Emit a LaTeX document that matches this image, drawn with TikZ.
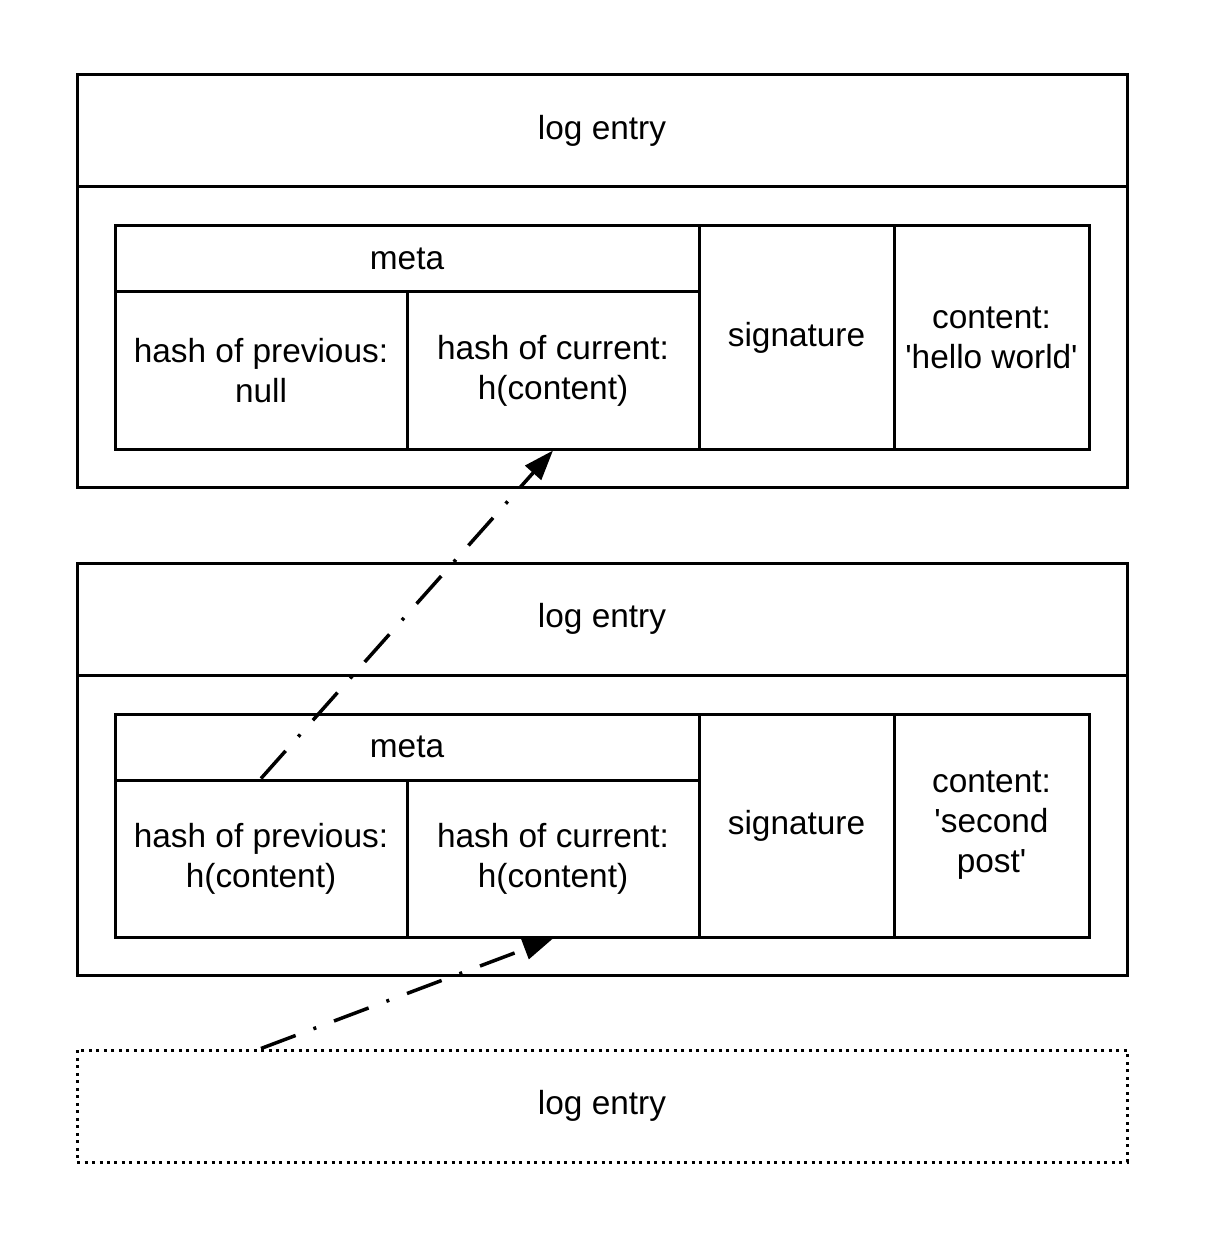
\documentclass[tikz,border=0pt]{standalone}
\usepackage{fontspec}
\setmainfont{Liberation Sans}
\usepackage{tikz}
\usetikzlibrary{arrows.meta, positioning, calc}
\newcommand{\entryfont}{\fontsize{19}{22.7}\selectfont}
\tikzset{
  box/.style={rectangle, draw, line width=0.06cm, inner sep=0pt,
              minimum width=21cm, minimum height=2.24cm, font=\entryfont},
  cel/.style={rectangle, draw, line width=0.06cm, inner sep=0pt,
              align=center, font=\entryfont},
  ghost/.style={box, line width=0.06cm, dash pattern=on 0.06cm off 0.09cm},
  arc/.style={-{Triangle[length=0.6cm, width=0.42cm]}, line width=0.07cm,
              dash pattern=on 0.74cm off 0.38cm on 0.06cm off 0.38cm}
}

\begin{document}
\begin{tikzpicture}
  \useasboundingbox (0,0) rectangle (24.08,-24.78);
  \foreach \e/\dy/\prev/\cont in {a/0/{null}/{\textquotesingle hello world\textquotesingle},
                                  b/9.76/{h(content)}/{\textquotesingle second\\post\textquotesingle}} {
    \node[box, minimum height=8.24cm] (body\e) at (12.04,-5.62-\dy) {};
    \node[box] (head\e) at (12.04,-2.62-\dy) {log entry};
    \node[cel, minimum width=11.68cm, minimum height=1.32cm] (meta\e) at (8.14,-5.18-\dy) {meta};
    \node[cel, minimum width=5.84cm, minimum height=3.14cm] (prev\e) at (5.22,-7.41-\dy) {hash of previous:\\\prev};
    \node[cel, minimum width=5.84cm, minimum height=3.14cm] (cur\e) at (11.06,-7.41-\dy) {hash of current:\\h(content)};
    \node[cel, minimum width=3.9cm, minimum height=4.46cm] (sig\e) at (15.93,-6.75-\dy) {signature};
    \node[cel, minimum width=3.9cm, minimum height=4.46cm] (cont\e) at (19.83,-6.75-\dy) {content:\\\cont};
  }
  \node[ghost] (headc) at (12.04,-22.12) {log entry};
  \draw[arc] (prevb.north) -- (cura.south);
  \draw[arc] (headc.north -| prevb.north) -- (curb.south);
\end{tikzpicture}
\end{document}
